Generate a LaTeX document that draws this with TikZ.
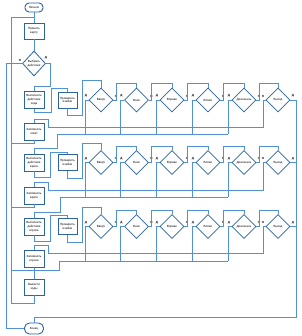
\documentclass[tikz,border=0pt]{standalone}
\usepackage{fontspec}
\setmainfont{Liberation Sans}
\usetikzlibrary{shapes.geometric}
\definecolor{wirec}{RGB}{80,145,215}
\definecolor{bordc}{RGB}{45,100,160}
\begin{document}
\begin{tikzpicture}[x=1pt,y=-1pt,
  box/.style={draw=bordc, line width=0.9pt, fill=white, minimum width=20pt, minimum height=17pt, inner sep=0pt, align=center, font=\fontsize{3}{3.8}\selectfont},
  term/.style={box, rounded corners=4pt, minimum height=9pt, minimum width=18pt},
  dec/.style={diamond, draw=bordc, line width=0.8pt, fill=white, minimum width=24pt, minimum height=24pt, inner sep=0pt, align=center, font=\fontsize{3}{3.8}\selectfont},
  wire/.style={draw=wirec, line width=0.75pt},
  lbl/.style={font=\fontsize{3}{3}\selectfont\bfseries, inner sep=0pt}]
\useasboundingbox (0,0) rectangle (301,336);
\fill[white] (0,0) rectangle (301,336);
\coordinate (loopx) at (11,0);

% main column
\node[term] (start) at (34,7.5) {Начало};
\node[box, minimum height=16pt] (card) at (34,31) {Принять\\карту};
\node[dec, minimum width=23pt, minimum height=25pt] (d0) at (34,63.5) {Выбрать\\действие};
\node[lbl] (d0n) at (20,60) {Н};
\node[lbl] (d0d) at (46,58) {Д};
\node[box, minimum height=16pt] (out) at (34,287) {Вывести\\ходы};
\node[term, minimum width=19pt, minimum height=11pt, rounded corners=5pt] (end) at (34,328.5) {Конец};

\foreach \r/\y/\ta/\tm/\dt/\at/\al/\bl/\ci/\cii/\my/\cx/\cy/\ax in {
  1/100/{Выполнить\\действие\\хода}/{Запомнить\\ответ}/80/88/112/115/127/134/131.5/57/148/51,
  2/162.5/{Выполнить\\действие\\врага}/{Запомнить\\врага}/143/152/177/178/190/197/195.5/60/212/50,
  3/226.5/{Выполнить\\действие\\игрока}/{Запомнить\\игрока}/207/215/241/242/253/261/259/59/270/50}
{
  \node[box] (A\r) at (34,\y) {\ta};
  \node[box, minimum width=19pt, minimum height=16pt] (B\r) at (67.5,\y) {Проверить\\ячейки};
  \node[box] (M\r) at (34,\my) {\tm};
  \foreach \k/\x/\tx in {1/101/Вверх,2/136.5/Вниз,3/172/Вправо,4/208/Влево,5/244/Диагональ,6/278/Выход}
    \node[dec] (D\r-\k) at (\x,\y) {\tx};
  \foreach \k/\x in {1/101,2/136.5,3/172,4/208,5/244} {
    \node[lbl] (L\r-\k a) at (\x-15,\y-4) {Д};
    \node[lbl] (L\r-\k b) at (\x+15,\y-4) {Н};
  }
  \node[lbl] (L\r-6a) at (263,\y-4) {Н};
  \node[lbl] (L\r-6b) at (293,\y-4) {Д};
  % A -> B
  \draw[wire] (A\r.south) -- (34,\al) -- (\ax,\al) -- (\ax,\at) -- (67.5,\at) -- (B\r.north);
  % B -> D1
  \draw[wire] (B\r.south) -- (67.5,\bl) -- (82,\bl) -- (82,\dt) -- (101,\dt) -- (D\r-1.north);
  % chain
  \foreach \k/\kk/\xa/\xb in {1/2/101/136.5,2/3/136.5/172,3/4/172/208,4/5/208/244,5/6/244/278}
    \draw[wire] (D\r-\k.east) -- (\xa+15,\y) -- (\xa+15,\dt+3) -- (\xb,\dt+3) -- (D\r-\kk.north);
  % yes branches to collector 2
  \foreach \k/\xa in {1/101,2/136.5,3/172,4/208,5/244}
    \draw[wire] (D\r-\k.west) -- (\xa-16,\y) -- (\xa-16,\cii);
  \coordinate (E\r) at (34,\cy);
  \draw[wire] (228,\cii) -- (\cx,\cii) -- (\cx,\cy) -- (E\r);
  % last decision
  \draw[wire] (D\r-6.west) -- (263,\y) -- (263,\ci) -- (48,\ci) -- (48,\ci-8) -- (34,\ci-8) -- (M\r.north);
  \coordinate (R\r) at (296,\y);
  \draw[wire] (D\r-6.east) -- (R\r);
  % remember -> loop back
  \draw[wire] (M\r.south) -- ++(0,2.5) coordinate (m\r) -- (m\r -| loopx);
}

\draw[wire] (start) -- (card);
\draw[wire] (card) -- (d0);
\draw[wire] (d0.east) -- (50,63.5) -- (50,86) -- (34,86) -- (A1.north);
\draw[wire] (d0.west) -- (6,63.5) -- (6,328.5) -- (end.west);
\draw[wire] (E1) -- (A2.north);
\draw[wire] (E2) -- (A3.north);
\draw[wire] (E3) -- (out.north);
\draw[wire] (out.south) -- (34,303) -- (11,303) -- (11,17) -- (34,17);
\draw[wire] (R1) -- (296,317) -- (34,317) -- (end.north);
\end{tikzpicture}
\end{document}
